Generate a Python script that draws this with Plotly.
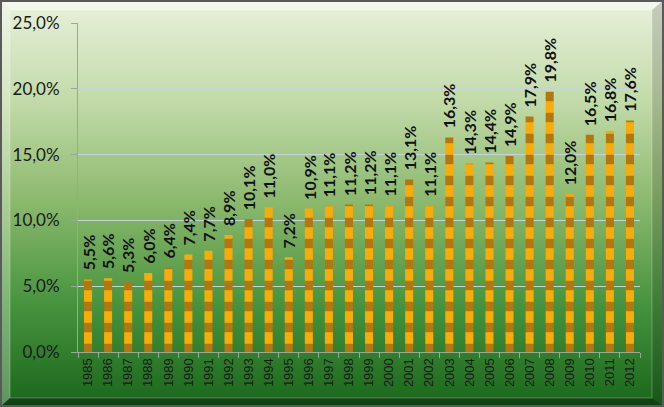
import base64
import plotly.graph_objects as go

# data
years = [str(y) for y in range(1985, 2013)]
values = [5.5, 5.6, 5.3, 6.0, 6.4, 7.4, 7.7, 8.9, 10.1, 11.0, 7.2, 10.9, 11.1, 11.2,
          11.2, 11.1, 13.1, 11.1, 16.3, 14.3, 14.4, 14.9, 17.9, 19.8, 12.0, 16.5, 16.8, 17.6]
shares = [v / 100 for v in values]

W, H = 664, 407

# background: green gradient with a bevelled frame
svg = f"""<svg xmlns='http://www.w3.org/2000/svg' width='{W}' height='{H}' viewBox='0 0 {W} {H}' preserveAspectRatio='none'>
<defs>
<linearGradient id='g' x1='0' y1='0' x2='0' y2='1'>
<stop offset='0' stop-color='#E8F1DC'/>
<stop offset='0.25' stop-color='#C2DAA8'/>
<stop offset='0.5' stop-color='#8AB86C'/>
<stop offset='0.75' stop-color='#46933E'/>
<stop offset='1' stop-color='#1A661B'/>
</linearGradient>
</defs>
<rect x='0' y='0' width='{W}' height='{H}' fill='url(#g)'/>
<polygon points='0,0 {W},0 {W-12},10 10,10' fill='#ffffff' fill-opacity='0.5'/>
<polygon points='0,0 10,10 10,{H-9} 0,{H}' fill='#ffffff' fill-opacity='0.3'/>
<polygon points='{W},0 {W},{H} {W-12},{H-9} {W-12},10' fill='#000000' fill-opacity='0.15'/>
<polygon points='0,{H} {W},{H} {W-12},{H-9} 10,{H-9}' fill='#000000' fill-opacity='0.35'/>
<rect x='10' y='10' width='{W-22}' height='{H-19}' fill='none' stroke='#ffffff' stroke-opacity='0.25' stroke-width='1'/>
<rect x='1' y='1' width='{W-2}' height='{H-2}' fill='none' stroke='#5a5a5a' stroke-width='2'/>
</svg>"""
bg = "data:image/svg+xml;base64," + base64.b64encode(svg.encode()).decode()

fig = go.Figure()
fig.add_trace(go.Bar(
    x=years,
    y=shares,
    marker=dict(
        color="#F4A70A",
        line=dict(width=0),
        pattern=dict(shape="-", size=21, solidity=0.45,
                     fgcolor="#94600E", bgcolor="#F8AC0A", fgopacity=0.7),
    ),
    hovertemplate="%{x}: %{y:.1%}<extra></extra>",
))

# value labels, rotated, above each bar (x given as category index)
for i, s in enumerate(shares):
    fig.add_annotation(
        x=i, y=s, text=f"{s * 100:.1f}%".replace(".", ","),
        textangle=-90, showarrow=False, yanchor="bottom", yshift=7,
        font=dict(family="Lato", size=16, color="#111111", weight="bold"),
    )

fig.update_layout(
    width=W,
    height=H,
    margin=dict(l=0, r=0, t=0, b=0),
    separators=",.",
    paper_bgcolor="#2a7a2a",
    plot_bgcolor="rgba(0,0,0,0)",
    bargap=0.6,
    showlegend=False,
    images=[dict(source=bg, xref="paper", yref="paper", x=0, y=1,
                 sizex=1, sizey=1, xanchor="left", yanchor="top",
                 sizing="stretch", layer="below")],
)

fig.update_xaxes(
    type="category",
    range=[-0.5, len(years) - 0.5],
    domain=[78 / W, 640 / W],
    automargin=False,
    tickangle=-90,
    tickfont=dict(family="Liberation Sans", size=13, color="#1a1a1a"),
    showline=True, linecolor="#9aa89a", linewidth=1,
    ticks="outside", ticklen=5, tickcolor="#9aa89a", tickson="boundaries",
    showgrid=False,
)
fig.update_yaxes(
    domain=[1 - 352 / H, 1 - 23 / H],
    automargin=False,
    range=[0, 0.25],
    dtick=0.05,
    tickformat=".1%",
    tickfont=dict(family="Lato", size=17, color="#1a1a1a"),
    ticklabelstandoff=8,
    showline=True, linecolor="#9aa89a", linewidth=1,
    ticks="outside", ticklen=6, tickcolor="#9aa89a",
    showgrid=True, gridcolor="#C4D4DC", gridwidth=1,
    zeroline=False,
)

fig.write_html("out.html", config={"displayModeBar": False},
               post_script="document.body.style.margin='0';")
